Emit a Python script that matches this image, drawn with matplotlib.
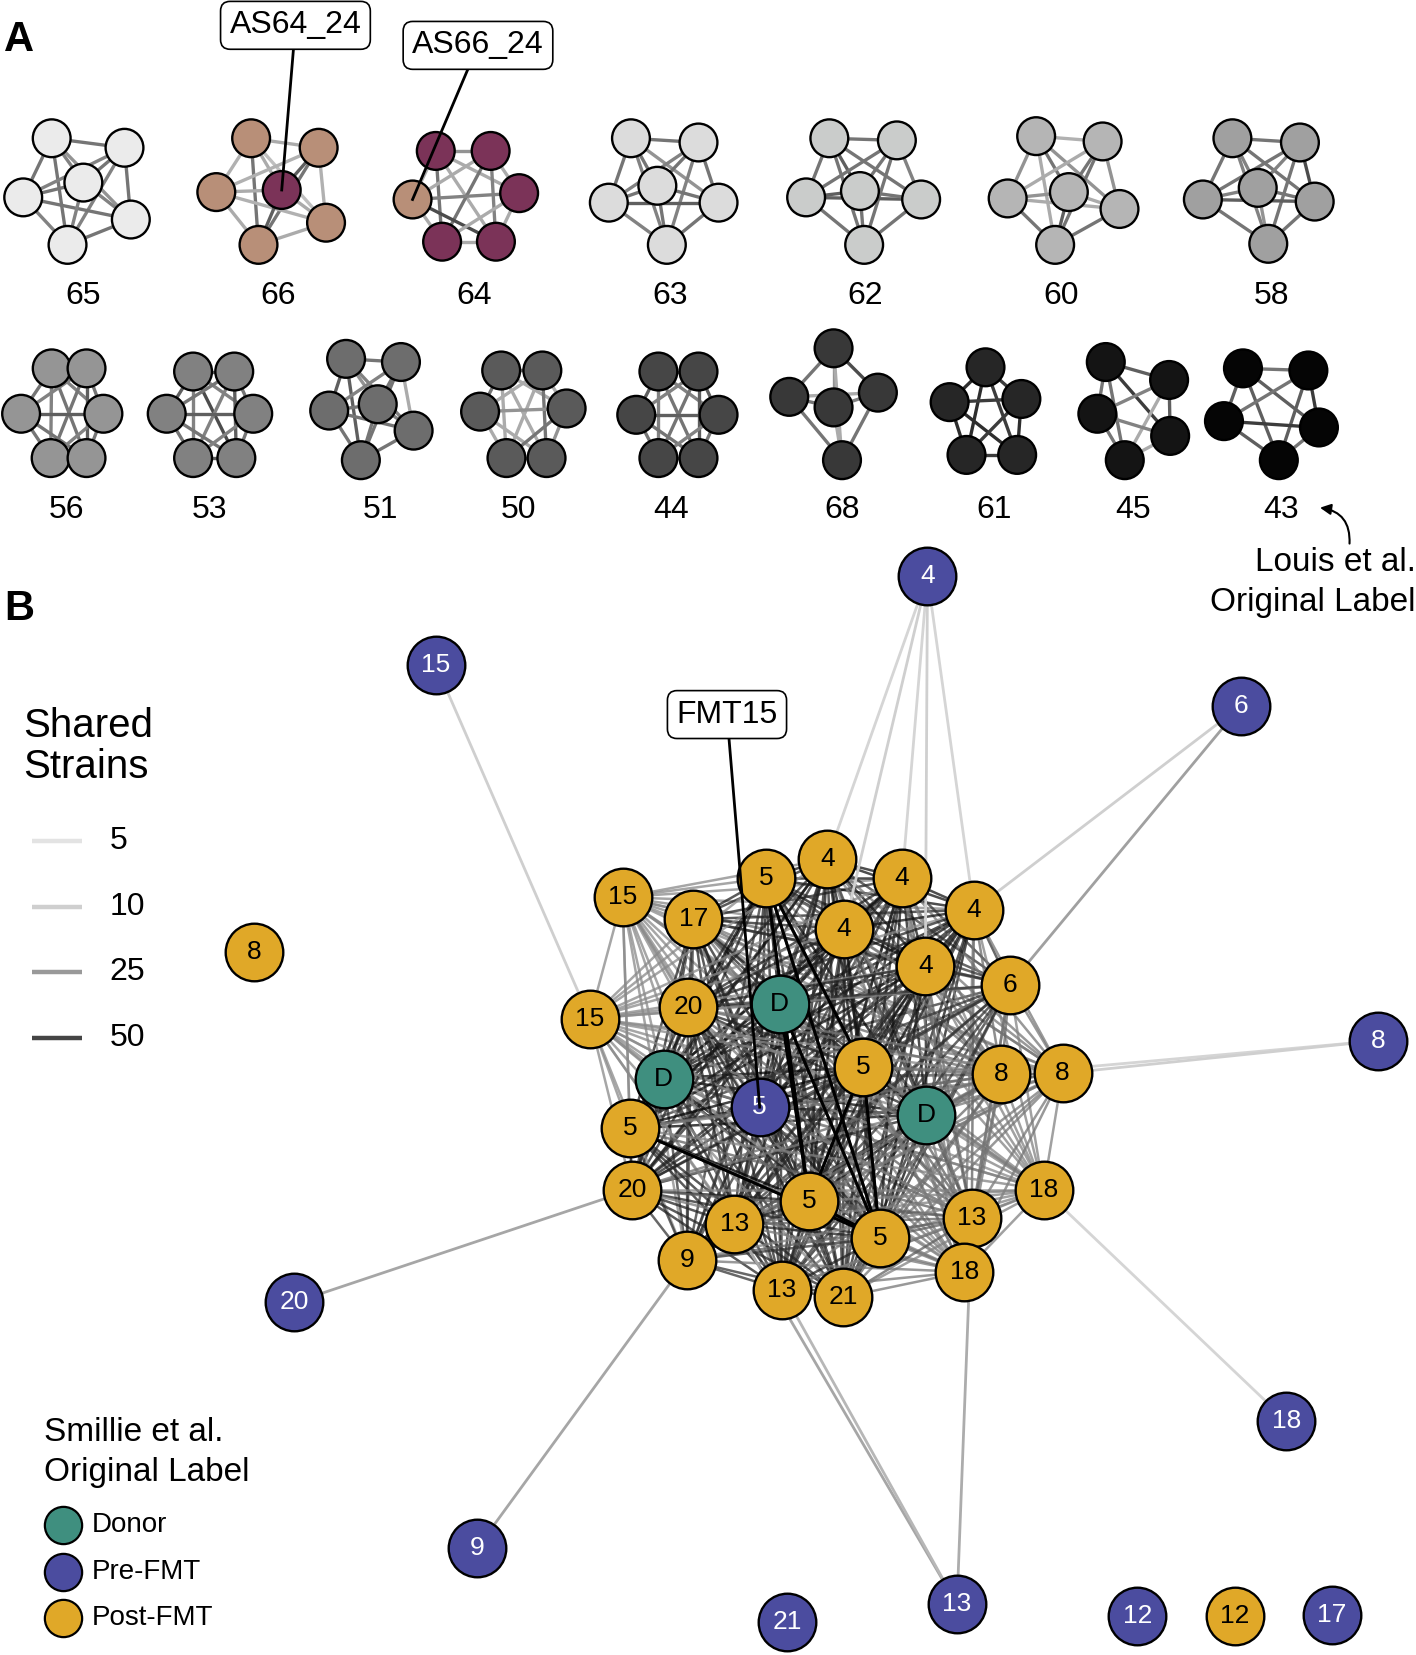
import itertools
import numpy as np
import matplotlib.pyplot as plt

plt.rcParams['font.family'] = ['Liberation Sans', 'DejaVu Sans']

# ---------------- Panel A: Louis et al. clusters ----------------
louis_labels = ['65', '66', '64', '63', '62', '60', '58',
                '56', '53', '51', '50', '44', '68', '61', '45', '43']
louis_label_x = [79, 264, 449, 635, 820, 1006, 1205,
                 63, 199, 361, 491, 636, 798, 942, 1074, 1214]
louis_label_y = [280] * 7 + [483] * 9
louis_fill = ['#ebebeb', '#b88f78', '#7b3358', '#dcdcdc', '#cacccb', '#b5b5b5', '#a0a0a0',
              '#959595', '#818181', '#6d6d6d', '#5a5a5a', '#464646', '#383838', '#262626',
              '#141414', '#050505']
# odd member (a sample sitting in another cluster)
louis_odd = {'66': (3, '#7b3358'), '64': (2, '#b88f78')}

louis_nodes_x = [
    [49, 118, 22, 79, 124, 64],
    [238, 302, 205, 267, 309, 245],
    [413, 465, 391, 492, 419, 470],
    [598, 662, 577, 623, 681, 632],
    [786, 850, 764, 815, 873, 819],
    [982, 1045, 955, 1013, 1061, 1000],
    [1168, 1232, 1140, 1192, 1246, 1202],
    [49, 82, 20, 98, 48, 82],
    [183, 222, 158, 240, 183, 224],
    [328, 380, 312, 358, 392, 342],
    [475, 514, 455, 537, 480, 518],
    [624, 662, 603, 681, 624, 662],
    [790, 748, 790, 832, 798],
    [934, 900, 968, 916, 964],
    [1048, 1108, 1040, 1109, 1066],
    [1178, 1240, 1160, 1250, 1212],
]
louis_nodes_y = [
    [131, 140, 187, 173, 208, 232],
    [131, 140, 182, 180, 211, 232],
    [143, 143, 189, 183, 229, 229],
    [131, 135, 192, 176, 192, 232],
    [131, 133, 187, 181, 189, 232],
    [129, 134, 188, 182, 198, 232],
    [131, 135, 189, 178, 191, 231],
    [349, 349, 392, 392, 434, 434],
    [352, 352, 392, 392, 434, 434],
    [340, 343, 389, 383, 408, 436],
    [351, 351, 390, 387, 434, 434],
    [352, 352, 393, 393, 434, 434],
    [330, 376, 386, 372, 436],
    [348, 381, 378, 431, 431],
    [343, 360, 392, 413, 436],
    [349, 351, 399, 405, 436],
]
# shared strains for every pair of members (itertools.combinations order)
louis_weights = [
    [25, 25, 20, 15, 25, 20, 25, 25, 20, 25, 25, 20, 20, 20, 25],
    [10, 8, 10, 5, 25, 8, 30, 8, 25, 10, 8, 10, 10, 30, 10],
    [15, 10, 10, 25, 10, 10, 10, 25, 20, 20, 10, 35, 10, 10, 10],
    [25, 25, 25, 15, 20, 20, 25, 25, 20, 25, 30, 20, 25, 25, 25],
    [25, 25, 30, 25, 25, 25, 25, 20, 25, 30, 30, 25, 25, 25, 25],
    [8, 15, 25, 15, 10, 10, 25, 15, 25, 15, 10, 25, 10, 30, 25],
    [25, 25, 20, 25, 20, 25, 20, 35, 25, 20, 30, 25, 25, 15, 25],
    [30, 25, 20, 20, 25, 20, 25, 25, 30, 30, 25, 25, 20, 25, 30],
    [30, 30, 20, 20, 35, 25, 25, 20, 30, 30, 25, 25, 20, 25, 30],
    [25, 30, 15, 20, 30, 20, 25, 10, 25, 25, 25, 25, 20, 25, 25],
    [25, 25, 10, 10, 10, 10, 10, 10, 25, 15, 10, 10, 25, 15, 25],
    [30, 30, 20, 20, 25, 20, 30, 25, 30, 30, 25, 25, 20, 25, 30],
    [25, 15, 35, 10, 25, 10, 25, 20, 10, 25],
    [45, 40, 45, 40, 40, 45, 45, 40, 45, 40],
    [30, 25, 40, 25, 20, 30, 10, 20, 25, 10],
    [25, 30, 30, 30, 25, 40, 30, 40, 30, 25],
]

# ---------------- Panel B: Smillie et al. network ----------------
node_id = ['pre4', 'pre15', 'pre6', 'pre8', 'pre20', 'pre18', 'pre9', 'pre13', 'pre21',
           'pre12', 'pre17', 'pre5', 'post8i', 'post12i',
           'd1', 'd2', 'd3',
           'p15a', 'p17', 'p5a', 'p4a', 'p4b', 'p4c', 'p4d', 'p4e', 'p6', 'p15b', 'p20a',
           'p5b', 'p8a', 'p8b', 'p5c', 'p20b', 'p5d', 'p13a', 'p5e', 'p13c', 'p18a', 'p9',
           'p13b', 'p21', 'p18b']
node_label = ['4', '15', '6', '8', '20', '18', '9', '13', '21', '12', '17', '5', '8', '12',
              'D', 'D', 'D',
              '15', '17', '5', '4', '4', '4', '4', '4', '6', '15', '20',
              '5', '8', '8', '5', '20', '5', '13', '5', '13', '18', '9',
              '13', '21', '18']
node_group = (['Pre-FMT'] * 12 + ['Post-FMT'] * 2 + ['Donor'] * 3 + ['Post-FMT'] * 25)
node_x = [879, 413, 1176, 1306, 279, 1219, 452, 907, 746, 1078, 1262, 720, 241, 1170,
          739, 629, 878,
          590, 657, 726, 784, 855, 923, 800, 877, 957, 559, 652,
          818, 949, 1007, 597, 599, 767, 696, 834, 921, 989, 651,
          741, 799, 914]
node_y = [546, 630, 669, 986, 1234, 1346, 1467, 1520, 1537, 1531, 1530, 1049, 902, 1531,
          951, 1022, 1056,
          850, 871, 832, 814, 832, 862, 880, 915, 933, 965, 954,
          1011, 1018, 1017, 1069, 1127, 1138, 1160, 1173, 1154, 1127, 1194,
          1222, 1229, 1205]

# typical number of strains each member of the dense component shares
core_strength = {'pre5': 40, 'd1': 45, 'd2': 45, 'd3': 45,
                 'p15a': 8, 'p17': 35, 'p5a': 45, 'p4a': 40, 'p4b': 40, 'p4c': 40,
                 'p4d': 40, 'p4e': 40, 'p6': 30, 'p15b': 8, 'p20a': 35, 'p5b': 45,
                 'p8a': 15, 'p8b': 12, 'p5c': 45, 'p20b': 35, 'p5d': 45, 'p13a': 35,
                 'p5e': 45, 'p13c': 18, 'p18a': 10, 'p9': 30, 'p13b': 35, 'p21': 35,
                 'p18b': 12}

# strongest links (patient 5 samples)
strong_edges = [('p5a', 'p5d', 60), ('p5a', 'p5e', 60), ('p5a', 'p5b', 60),
                ('p5b', 'p5d', 60), ('p5b', 'p5e', 60), ('d1', 'p5d', 55),
                ('d1', 'p5e', 55), ('p5c', 'p5e', 55), ('p5d', 'p5e', 60)]

# links from the outer pre-FMT samples
outer_edges = [('pre4', 'p4a', 8), ('pre4', 'p4b', 8), ('pre4', 'p4c', 8),
               ('pre4', 'p4d', 10), ('pre4', 'p4e', 10),
               ('pre15', 'p15b', 10),
               ('pre6', 'p6', 22), ('pre6', 'p4c', 10),
               ('pre8', 'p8a', 8), ('pre8', 'p8b', 10),
               ('pre20', 'p20b', 20),
               ('pre18', 'p18a', 8),
               ('pre9', 'p9', 20),
               ('pre13', 'p13a', 20), ('pre13', 'p13b', 15), ('pre13', 'p13c', 18)]

strain_ticks = [5, 10, 25, 50]
strain_grays = [0.89, 0.81, 0.60, 0.27]

group_names = ['Donor', 'Pre-FMT', 'Post-FMT']
group_colors = ['#3f8f7f', '#4b4c9f', '#e0a828']
group_text = ['black', 'white', 'black']


def strain_gray(w, darker=0.0):
    g = np.interp(np.log(w), np.log(strain_ticks), strain_grays)
    g = min(max(g - darker, 0.0), 1.0)
    return (g, g, g)


fig = plt.figure(figsize=(14.16, 16.55), dpi=100)
ax = fig.add_axes([0, 0, 1, 1])
ax.set_xlim(0, 1342)
ax.set_ylim(1568, 0)
ax.axis('off')

# ---- panel A
for k, lab in enumerate(louis_labels):
    xs = louis_nodes_x[k]
    ys = louis_nodes_y[k]
    pairs = list(itertools.combinations(range(len(xs)), 2))
    for (i, j), w in zip(pairs, louis_weights[k]):
        ax.plot([xs[i], xs[j]], [ys[i], ys[j]], color=strain_gray(w, 0.14),
                lw=2.4, solid_capstyle='butt', zorder=1)
    cols = [louis_fill[k]] * len(xs)
    if lab in louis_odd:
        idx, c = louis_odd[lab]
        cols[idx] = c
    ax.scatter(xs, ys, s=740, c=cols, edgecolors='black', linewidths=1.7, zorder=2)
    ax.text(louis_label_x[k], louis_label_y[k], lab, ha='center', va='center', fontsize=23)

# ---- panel B edges
pos = {n: (x, y) for n, x, y in zip(node_id, node_x, node_y)}
core = list(core_strength.keys())
for a, b in itertools.combinations(core, 2):
    w = min(core_strength[a], core_strength[b])
    (x1, y1), (x2, y2) = pos[a], pos[b]
    ax.plot([x1, x2], [y1, y2], color=strain_gray(w, 0.3), lw=1.8, alpha=0.75, zorder=3)
for a, b, w in outer_edges:
    (x1, y1), (x2, y2) = pos[a], pos[b]
    ax.plot([x1, x2], [y1, y2], color=strain_gray(w), lw=2.0, zorder=3)
for a, b, w in strong_edges:
    (x1, y1), (x2, y2) = pos[a], pos[b]
    ax.plot([x1, x2], [y1, y2], color=(0.0, 0.0, 0.0), lw=2.2, zorder=3.5)

# ---- panel B nodes
for g, col, tcol in zip(group_names, group_colors, group_text):
    idx = [i for i, gg in enumerate(node_group) if gg == g]
    ax.scatter([node_x[i] for i in idx], [node_y[i] for i in idx], s=1720, c=col,
               edgecolors='black', linewidths=1.7, zorder=4)
    for i in idx:
        ax.text(node_x[i], node_y[i], node_label[i], ha='center', va='center',
                fontsize=19, color=tcol, zorder=5)

# ---- callouts
box = dict(boxstyle='round,pad=0.28,rounding_size=0.3', fc='white', ec='black', lw=1.2)
callouts = [('AS64_24', (280, 24), (267, 180)),
            ('AS66_24', (453, 43), (391, 189)),
            ('FMT15', (689, 677), (720, 1049))]
for txt, (tx, ty), (nx, ny) in callouts:
    ax.plot([tx, nx], [ty, ny], color='black', lw=2.0, zorder=6)
    ax.text(tx, ty, txt, ha='center', va='center', fontsize=23, bbox=box, zorder=7)

ax.annotate('', xy=(1251, 481), xytext=(1279, 515),
            arrowprops=dict(arrowstyle='-|>', connectionstyle='arc3,rad=0.45',
                            color='black', lw=1.5, mutation_scale=16, shrinkA=0, shrinkB=0))
ax.text(1342, 552, 'Louis et al.\nOriginal Label', ha='right', va='center',
        multialignment='right', fontsize=24, linespacing=1.35)

# panel letters
ax.text(4, 38, 'A', ha='left', va='center', fontsize=30, fontweight='bold')
ax.text(4, 577, 'B', ha='left', va='center', fontsize=30, fontweight='bold')

# ---- Shared Strains legend
ax.text(22, 707, 'Shared\nStrains', ha='left', va='center', fontsize=29, linespacing=1.1)
for k, (w, ly) in enumerate(zip(strain_ticks, [797, 859, 921, 983])):
    ax.plot([30, 78], [ly, ly], color=strain_gray(w), lw=3.2, solid_capstyle='butt')
    ax.text(104, ly, str(w), ha='left', va='center', fontsize=23)

# ---- group legend
ax.text(42, 1376, 'Smillie et al.\nOriginal Label', ha='left', va='center',
        fontsize=24, linespacing=1.35)
for g, col, ly in zip(group_names, group_colors, [1445, 1489, 1533]):
    ax.scatter([60], [ly], s=720, c=col, edgecolors='black', linewidths=1.6)
    ax.text(87, ly, g, ha='left', va='center', fontsize=20)

fig.savefig('out.png', dpi=100)
